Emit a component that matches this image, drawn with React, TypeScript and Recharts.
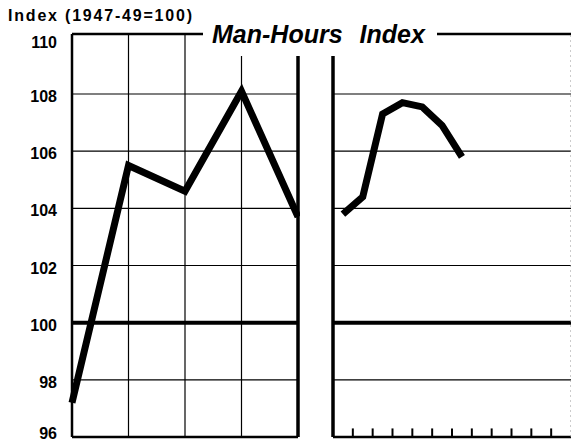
import React from 'react';
import { LineChart, Line, XAxis, YAxis, ReferenceLine } from 'recharts';

// annual averages (left panel) and monthly values (right panel), 1947-49 = 100
const annualIndex = [97.2, 105.5, 104.6, 108.1, 103.7];
const monthNames = ['Jan', 'Feb', 'Mar', 'Apr', 'May', 'Jun', 'Jul'];
const monthlyIndex = [103.8, 104.4, 107.3, 107.7, 107.55, 106.9, 105.8];

const yTicks = [96, 98, 100, 102, 104, 106, 108, 110];
const gridValues = [98, 102, 104, 106, 108];
const yearDividers = [1, 2, 3];
const monthTicks = [1, 2, 3, 4, 5, 6, 7, 8, 9, 10, 11];

const Y_MIN = 96;
const FRAME_TOP = 110.1;
const FONT = '"Liberation Sans", Arial, sans-serif';

const annualData = annualIndex.map((value, i) => ({ x: i, value }));
const monthlyData = monthlyIndex.map((value, i) => ({ x: i + 0.5, month: monthNames[i], value }));

// y labels sit a little below their line, bottom one a little above
const YTick = ({ y, payload }: any) => {
    const v = payload.value;
    const shift = v === 96 ? -4 : v === 110 ? 5 : 2;
    return (
        <text x={57} y={y + shift} dy={6} textAnchor="end" fontFamily={FONT} fontWeight="bold" fontSize={16} fill="#000">
            {v}
        </text>
    );
};

const App: React.FC = () => {
    return (
        <div style={{ position: 'relative', width: 571, height: 441, background: '#fff', overflow: 'hidden' }}>
            <style>{`body { margin: 0; }`}</style>

            {/* left panel: yearly */}
            <div style={{ position: 'absolute', left: 0, top: 0 }}>
                <LineChart width={300} height={441} data={annualData} margin={{ top: 34, right: 2, bottom: 4, left: 0 }}>
                    <XAxis type="number" dataKey="x" domain={[0, 4]} hide />
                    <YAxis
                        type="number"
                        domain={[Y_MIN, FRAME_TOP]}
                        ticks={yTicks}
                        width={72}
                        axisLine={false}
                        tickLine={false}
                        tick={<YTick />}
                        interval={0}
                    />
                    {gridValues.map(v => (
                        <ReferenceLine key={v} y={v} stroke="#000" strokeWidth={1.2} />
                    ))}
                    {yearDividers.map(v => (
                        <ReferenceLine key={'v' + v} x={v} stroke="#000" strokeWidth={1.2} />
                    ))}
                    <ReferenceLine y={100} stroke="#000" strokeWidth={4} />
                    <ReferenceLine y={FRAME_TOP} stroke="#000" strokeWidth={2.5} />
                    <ReferenceLine y={Y_MIN} stroke="#000" strokeWidth={2.5} />
                    <ReferenceLine x={0} stroke="#000" strokeWidth={2.5} />
                    <ReferenceLine x={4} stroke="#000" strokeWidth={3.5} />
                    <Line
                        type="linear"
                        dataKey="value"
                        stroke="#000"
                        strokeWidth={7}
                        dot={false}
                        isAnimationActive={false}
                    />
                </LineChart>
            </div>

            {/* right panel: monthly */}
            <div style={{ position: 'absolute', left: 300, top: 0 }}>
                <LineChart width={271} height={441} data={monthlyData} margin={{ top: 34, right: 0, bottom: 4, left: 33 }}>
                    <XAxis type="number" dataKey="x" domain={[0, 12]} hide />
                    <YAxis type="number" domain={[Y_MIN, FRAME_TOP]} hide />
                    {gridValues.map(v => (
                        <ReferenceLine key={v} y={v} stroke="#000" strokeWidth={1.2} />
                    ))}
                    <ReferenceLine y={100} stroke="#000" strokeWidth={4} />
                    <ReferenceLine y={FRAME_TOP} stroke="#000" strokeWidth={2.5} />
                    <ReferenceLine y={Y_MIN} stroke="#000" strokeWidth={2.5} />
                    <ReferenceLine x={0} stroke="#000" strokeWidth={3.5} />
                    <ReferenceLine x={12} stroke="#999" strokeWidth={1} strokeDasharray="2 3" />
                    {monthTicks.map(m => (
                        <ReferenceLine
                            key={'t' + m}
                            segment={[{ x: m, y: Y_MIN }, { x: m, y: Y_MIN + 0.3 }]}
                            stroke="#000"
                            strokeWidth={2}
                        />
                    ))}
                    <Line
                        type="linear"
                        dataKey="value"
                        stroke="#000"
                        strokeWidth={7}
                        dot={false}
                        isAnimationActive={false}
                    />
                </LineChart>
            </div>

            {/* unit note */}
            <div style={{
                position: 'absolute',
                left: 8,
                top: 8,
                fontFamily: FONT,
                fontWeight: 'bold',
                fontSize: 16,
                lineHeight: '16px',
                letterSpacing: '1.8px',
                whiteSpace: 'nowrap',
                color: '#000'
            }}>
                Index (1947-49=100)
            </div>

            {/* title breaks the top frame line */}
            <div style={{
                position: 'absolute',
                left: 203,
                top: 20,
                width: 234,
                height: 36,
                background: '#fff'
            }}>
                <div style={{
                    paddingLeft: 9,
                    paddingTop: 2,
                    fontFamily: FONT,
                    fontWeight: 'bold',
                    fontStyle: 'italic',
                    fontSize: 25,
                    lineHeight: '25px',
                    wordSpacing: '10px',
                    whiteSpace: 'nowrap',
                    color: '#000'
                }}>
                    Man-Hours Index
                </div>
            </div>
        </div>
    );
};

export default App;
